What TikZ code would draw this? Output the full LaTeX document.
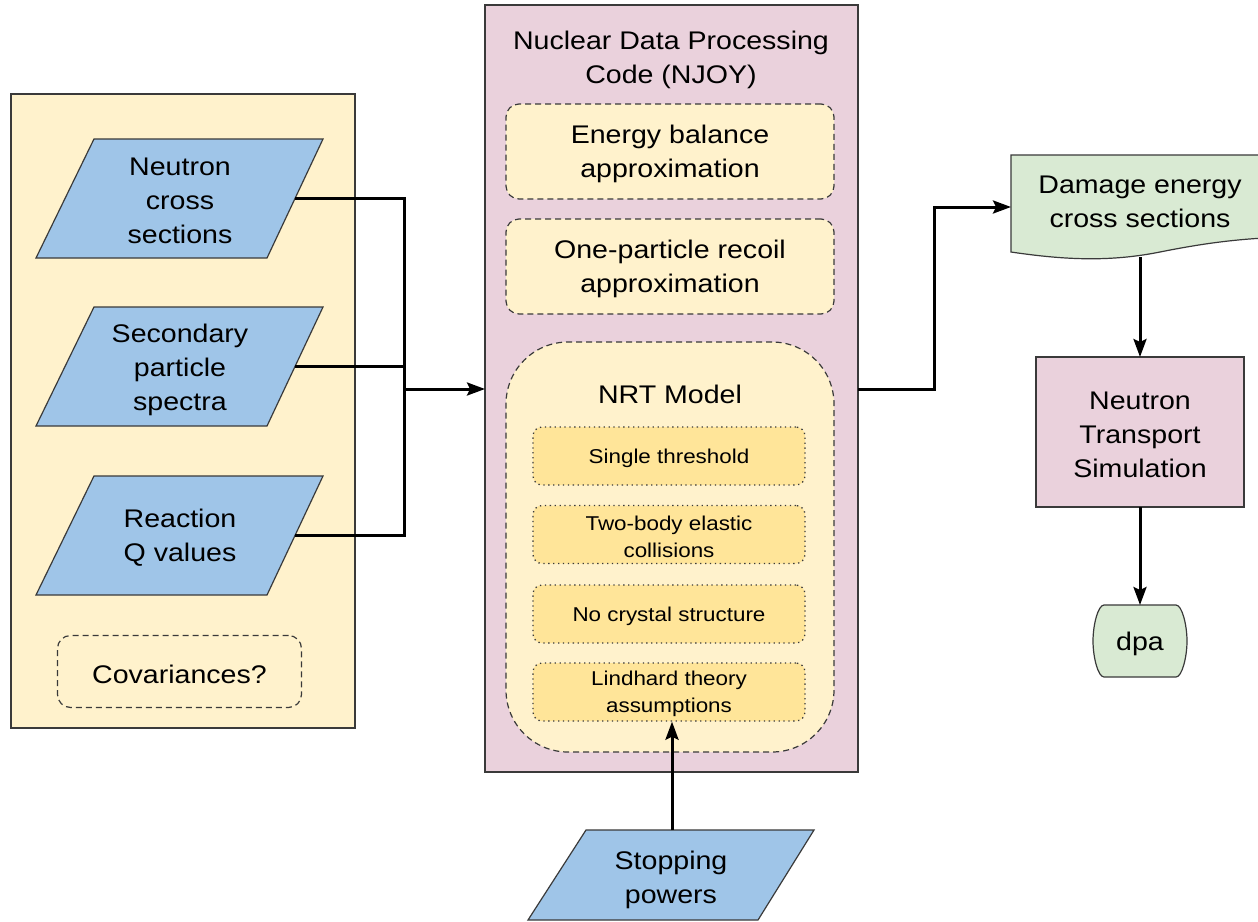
\documentclass[tikz,border=0pt]{standalone}
\usepackage{fontspec}
\setmainfont{Liberation Sans}[FakeStretch=1.12]
\usetikzlibrary{arrows.meta,calc}
\definecolor{panelY}{HTML}{FFF2CC}
\definecolor{njoyP}{HTML}{EAD1DC}
\definecolor{paraB}{HTML}{9FC5E8}
\definecolor{docG}{HTML}{D9EAD3}
\definecolor{innerO}{HTML}{FFE599}
\definecolor{edgeC}{HTML}{3A3A3A}
\begin{document}
\begin{tikzpicture}[x=1pt,y=-1pt,
 big/.style={font=\fontsize{25.5}{34}\selectfont, align=center, inner sep=0pt},
 small/.style={font=\fontsize{20}{27}\selectfont, align=center},
 para/.style={draw=edgeC, fill=paraB, line width=1.2pt},
 link/.style={line width=3pt, black},
 arr/.style={link, -{Stealth[length=18pt,width=13pt,inset=3pt]}},
 dashbox/.style={draw=edgeC, fill=panelY, dash pattern=on 6pt off 4pt, line width=1.2pt, rounded corners=13pt, inner sep=0pt},
 dotbox/.style={draw=edgeC, fill=innerO, dash pattern=on 1.3pt off 3.6pt, line width=1.3pt, rounded corners=9pt, minimum width=272pt, minimum height=58pt, inner sep=0pt},
 solidbox/.style={draw=edgeC, line width=1.2pt, inner sep=0pt, outer sep=0pt},
 tx/.style={big, yshift=-2.5pt},
 stx/.style={small, yshift=-2pt},
]
\useasboundingbox (0,0) rectangle (1258,921);
\fill[white] (0,0) rectangle (1258,921);

% ---------- left panel ----------
\node[solidbox, fill=panelY, minimum width=344pt, minimum height=634pt] (panel) at (183,411) {};

\draw[para] (94,139) -- (323,139) -- (267,258) -- (36,258) -- cycle;
\node[tx] (ncs) at (180,198) {Neutron\\cross\\sections};
\coordinate (ncsE) at (295,198.5);

\draw[para] (94,307) -- (323,307) -- (267,426) -- (36,426) -- cycle;
\node[tx] (spec) at (180,367) {Secondary\\particle\\spectra};
\coordinate (specE) at (295,366.5);

\draw[para] (94,476) -- (323,476) -- (267,595) -- (36,595) -- cycle;
\node[tx] (rq) at (180,535) {Reaction\\Q values};
\coordinate (rqE) at (295,535.5);

\node[dashbox, minimum width=244pt, minimum height=72pt] (cov) at (179.5,671.5) {};
\node[tx] (covT) at (cov.center) {Covariances?};

% ---------- NJOY ----------
\node[solidbox, fill=njoyP, minimum width=373pt, minimum height=767pt] (njoy) at (671.5,388.5) {};
\node[tx] (title) at (671,57) {Nuclear Data Processing\\Code (NJOY)};
\node[dashbox, minimum width=328pt, minimum height=95pt] (eb) at (670,151.5) {};
\node[tx] (ebT) at (eb.center) {Energy balance\\approximation};
\node[dashbox, minimum width=328pt, minimum height=95pt] (op) at (670,266.5) {};
\node[tx] (opT) at (op.center) {One-particle recoil\\approximation};
\node[dashbox, rounded corners=62pt, minimum width=328pt, minimum height=410pt] (nrt) at (670,547) {};
\node[tx] (nrtT) at (670,392) {NRT Model};
\node[dotbox] (st) at (669,456) {};
\node[stx] at (st.center) {Single threshold};
\node[dotbox] (tb) at (669,534.5) {};
\node[stx] at (tb.center) {Two-body elastic\\collisions};
\node[dotbox] (nc) at (669,614) {};
\node[stx] at (nc.center) {No crystal structure};
\node[dotbox] (lt) at (669,692) {};
\node[stx] at (lt.center) {Lindhard theory\\assumptions};

% ---------- stopping powers ----------
\draw[para] (586,830) -- (814,830) -- (758,920) -- (528,920) -- cycle;
\node[tx] (sp) at (671,877) {Stopping\\powers};
\coordinate (spT) at (672,830);

% ---------- right side ----------
\draw[draw=edgeC, fill=docG, line width=1.2pt] (1011,155) -- (1264,155) -- (1264,238)
  .. controls (1230,240) and (1200,244) .. (1160,252)
  .. controls (1110,262) and (1065,260) .. (1011,252) -- cycle;
\node[tx] (dmg) at (1140,199) {Damage energy\\cross sections};
\coordinate (dmgW) at (1011,207);
\coordinate (dmgS) at (1140,257);

\node[solidbox, fill=njoyP, minimum width=208pt, minimum height=150pt] (nts) at (1140,432) {};
\node[tx] (ntsT) at (nts.center) {Neutron\\Transport\\Simulation};

\draw[draw=edgeC, fill=docG, line width=1.2pt]
  (1104,605) -- (1176,605)
  .. controls (1182,605) and (1187,625) .. (1187,641)
  .. controls (1187,657) and (1182,677) .. (1176,677)
  -- (1104,677)
  .. controls (1098,677) and (1093,657) .. (1093,641)
  .. controls (1093,625) and (1098,605) .. (1104,605) -- cycle;
\node[tx] (dpa) at (1140,641) {dpa};
\coordinate (dpaT) at (1140,605);

% ---------- connectors ----------
\coordinate (jn) at (404,389);
\draw[link] (ncsE) -| (jn);
\draw[link] (rqE) -| (jn);
\draw[link] (specE) -| (jn);
\draw[arr] (jn) -- (njoy.west |- jn);
\draw[arr] (njoy.east |- jn) -- ++(76,0) |- (dmgW);
\draw[arr] (spT) -- (spT |- lt.south);
\draw[arr] (dmgS) -- (nts.north);
\draw[arr] (nts.south) -- (dpaT);
\end{tikzpicture}
\end{document}
